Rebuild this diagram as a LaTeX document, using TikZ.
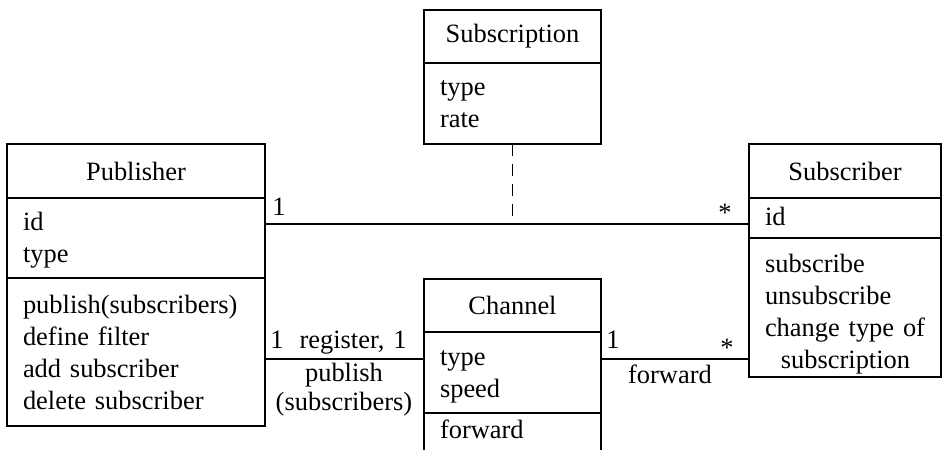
\documentclass[tikz,border=0pt]{standalone}
\usepackage{fontspec}
\setmainfont{Liberation Serif}
\usetikzlibrary{positioning}
\tikzset{
  box/.style={draw, line width=1.2pt, outer sep=0pt, inner xsep=0.4cm, inner ysep=0pt,
    font=\fontsize{18.8}{22.8}\selectfont},
  head/.style={box, align=center},
  part/.style={box, align=left},
  link/.style={line width=1.2pt},
  mult/.style={inner sep=0pt, font=\fontsize{18.8}{20.6}\selectfont},
}
\begin{document}
\begin{tikzpicture}[x=0.025cm, y=-0.025cm]
  \useasboundingbox (0,0) rectangle (942,449);
  \clip (0,0) rectangle (942,449);
  % publisher
  \node [head, text width=5.65cm, minimum height=1.35cm, anchor=north west] (pubH) at (7,144) {Publisher};
  \node [part, text width=5.65cm, text height=0.8cm, text depth=1.2cm, below=0pt of pubH] (pubA) {id\\type};
  \node [part, text width=5.65cm, text height=0.875cm, text depth=2.825cm, below=0pt of pubA] (pubM)
    {publish(subscribers)\\define filter\\add subscriber\\delete subscriber};
  % subscription
  \node [head, text width=3.625cm, minimum height=1.325cm, anchor=north west] (subsH) at (424,10) {Subscription};
  \node [part, text width=3.625cm, text height=0.8cm, text depth=1.225cm, below=0pt of subsH] (subsA) {type\\rate};
  % channel
  \node [head, text width=3.625cm, minimum height=1.325cm, anchor=north west] (chH) at (424,279) {Channel};
  \node [part, text width=3.625cm, text height=0.825cm, text depth=1.2cm, below=0pt of chH] (chA) {type\\speed};
  \node [part, text width=3.625cm, text height=0.625cm, text depth=1.25cm, below=0pt of chA] (chM) {forward};
  % subscriber
  \node [head, text width=4cm, minimum height=1.35cm, anchor=north west] (subH) at (749,144) {Subscriber};
  \node [part, text width=4cm, text height=0.675cm, text depth=0.325cm, below=0pt of subH] (subA) {id};
  \node [part, text width=4cm, text height=0.85cm, text depth=2.625cm, below=0pt of subA] (subM)
    {subscribe\\unsubscribe\\change type of\\\hspace*{0.6em}subscription};
  % associations
  \draw [link] (pubA.east |- 0,224) -- (subA.west |- 0,224);
  \draw [link, dash pattern=on 0.3cm off 0.2cm] (subsA.south) -- (subsA.south |- 0,224);
  \draw [link] (pubM.east |- 0,359) -- (chA.west |- 0,359);
  \draw [link] (chA.east |- 0,359) -- (subM.west |- 0,359);
  % multiplicities and roles
  \node [mult, anchor=base] (m1) at (279,215) {1};
  \node [mult, anchor=base] (m2) at (725,221) {*};
  \node [mult, anchor=base] (m3) at (277,348) {1};
  \node [mult, anchor=base] (m4) at (400,348) {1};
  \node [mult, anchor=base] (m5) at (613,348) {1};
  \node [mult, anchor=base] (m6) at (727,356) {*};
  \node [mult, anchor=base] (reg) at (342,348) {register,};
  \node [mult, align=center, anchor=north] (pub) at (344,363) {publish\\(subscribers)};
  \node [mult, anchor=base] (fwd) at (670,383) {forward};
\end{tikzpicture}
\end{document}
